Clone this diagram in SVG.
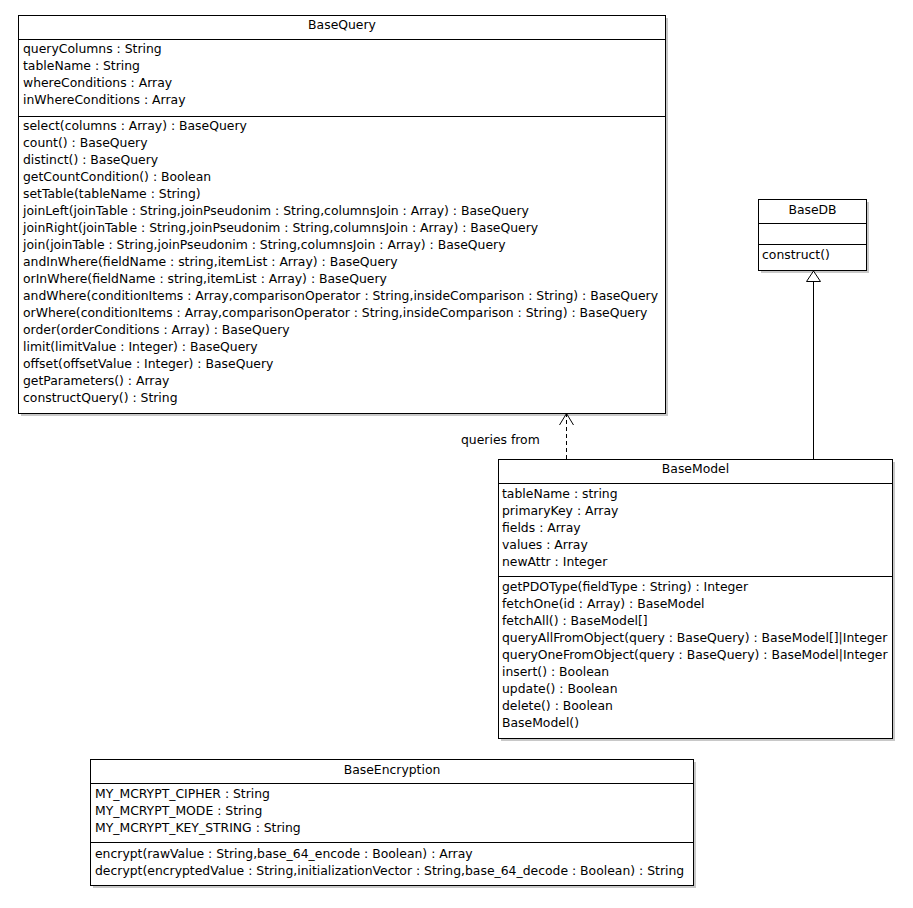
<svg xmlns="http://www.w3.org/2000/svg" width="913" height="908" viewBox="0 0 913 908">
<style>
.box{fill:#fff;stroke:#000;stroke-width:1}
.shadow{fill:#c8c8c8}
.div{stroke:#000;stroke-width:1}
text{font-family:"DejaVu Sans","Liberation Sans",sans-serif;font-size:12.4px;fill:#000}
.c{text-anchor:middle}
.edge{stroke:#000;stroke-width:1;fill:none}
</style>
<rect width="913" height="908" fill="#fff"/>
<g id="BaseQuery">
<rect class="shadow" x="21" y="18" width="647" height="398"/>
<rect class="box" x="18.5" y="15.5" width="647" height="398"/>
<line class="div" x1="18.5" y1="39.5" x2="665.5" y2="39.5"/>
<line class="div" x1="18.5" y1="116.5" x2="665.5" y2="116.5"/>
<text class="c" x="342" y="29">BaseQuery</text>
<text x="23" y="53">queryColumns : String</text>
<text x="23" y="70">tableName : String</text>
<text x="23" y="87">whereConditions : Array</text>
<text x="23" y="104">inWhereConditions : Array</text>
<text x="23" y="130">select(columns : Array) : BaseQuery</text>
<text x="23" y="147">count() : BaseQuery</text>
<text x="23" y="164">distinct() : BaseQuery</text>
<text x="23" y="181">getCountCondition() : Boolean</text>
<text x="23" y="198">setTable(tableName : String)</text>
<text x="23" y="215">joinLeft(joinTable : String,joinPseudonim : String,columnsJoin : Array) : BaseQuery</text>
<text x="23" y="232">joinRight(joinTable : String,joinPseudonim : String,columnsJoin : Array) : BaseQuery</text>
<text x="23" y="249">join(joinTable : String,joinPseudonim : String,columnsJoin : Array) : BaseQuery</text>
<text x="23" y="266">andInWhere(fieldName : string,itemList : Array) : BaseQuery</text>
<text x="23" y="283">orInWhere(fieldName : string,itemList : Array) : BaseQuery</text>
<text x="23" y="300">andWhere(conditionItems : Array,comparisonOperator : String,insideComparison : String) : BaseQuery</text>
<text x="23" y="317">orWhere(conditionItems : Array,comparisonOperator : String,insideComparison : String) : BaseQuery</text>
<text x="23" y="334">order(orderConditions : Array) : BaseQuery</text>
<text x="23" y="351">limit(limitValue : Integer) : BaseQuery</text>
<text x="23" y="368">offset(offsetValue : Integer) : BaseQuery</text>
<text x="23" y="385">getParameters() : Array</text>
<text x="23" y="402">constructQuery() : String</text>
</g>
<g id="BaseDB">
<rect class="shadow" x="761" y="202" width="108" height="71"/>
<rect class="box" x="758.5" y="199.5" width="108" height="71"/>
<line class="div" x1="758.5" y1="223.5" x2="866.5" y2="223.5"/>
<line class="div" x1="758.5" y1="244.5" x2="866.5" y2="244.5"/>
<text class="c" x="812.5" y="214">BaseDB</text>
<text x="762" y="259">construct()</text>
</g>
<g id="BaseModel">
<rect class="shadow" x="501" y="462" width="394" height="279"/>
<rect class="box" x="498.5" y="459.5" width="394" height="279"/>
<line class="div" x1="498.5" y1="483.5" x2="892.5" y2="483.5"/>
<line class="div" x1="498.5" y1="576.5" x2="892.5" y2="576.5"/>
<text class="c" x="695.5" y="473">BaseModel</text>
<text x="502" y="498">tableName : string</text>
<text x="502" y="515">primaryKey : Array</text>
<text x="502" y="532">fields : Array</text>
<text x="502" y="549">values : Array</text>
<text x="502" y="566">newAttr : Integer</text>
<text x="502" y="591">getPDOType(fieldType : String) : Integer</text>
<text x="502" y="608">fetchOne(id : Array) : BaseModel</text>
<text x="502" y="625">fetchAll() : BaseModel[]</text>
<text x="502" y="642">queryAllFromObject(query : BaseQuery) : BaseModel[]|Integer</text>
<text x="502" y="659">queryOneFromObject(query : BaseQuery) : BaseModel|Integer</text>
<text x="502" y="676">insert() : Boolean</text>
<text x="502" y="693">update() : Boolean</text>
<text x="502" y="710">delete() : Boolean</text>
<text x="502" y="727">BaseModel()</text>
</g>
<g id="BaseEncryption">
<rect class="shadow" x="93" y="762" width="603" height="126"/>
<rect class="box" x="90.5" y="759.5" width="603" height="126"/>
<line class="div" x1="90.5" y1="783.5" x2="693.5" y2="783.5"/>
<line class="div" x1="90.5" y1="842.5" x2="693.5" y2="842.5"/>
<text class="c" x="392" y="774">BaseEncryption</text>
<text x="95" y="798">MY_MCRYPT_CIPHER : String</text>
<text x="95" y="815">MY_MCRYPT_MODE : String</text>
<text x="95" y="832">MY_MCRYPT_KEY_STRING : String</text>
<text x="95" y="858">encrypt(rawValue : String,base_64_encode : Boolean) : Array</text>
<text x="95" y="875">decrypt(encryptedValue : String,initializationVector : String,base_64_decode : Boolean) : String</text>
</g>
<g id="connectors">
<line class="edge" x1="566.5" y1="459" x2="566.5" y2="414" stroke-dasharray="4,3"/>
<polyline class="edge" points="559.5,425 566.5,413.5 573.5,425"/>
<text x="461" y="444">queries from</text>
<line class="edge" x1="813.5" y1="459" x2="813.5" y2="281"/>
<polygon points="813.5,271 806.5,281.5 820.5,281.5" fill="#fff" stroke="#000" stroke-width="1"/>
</g>
</svg>
